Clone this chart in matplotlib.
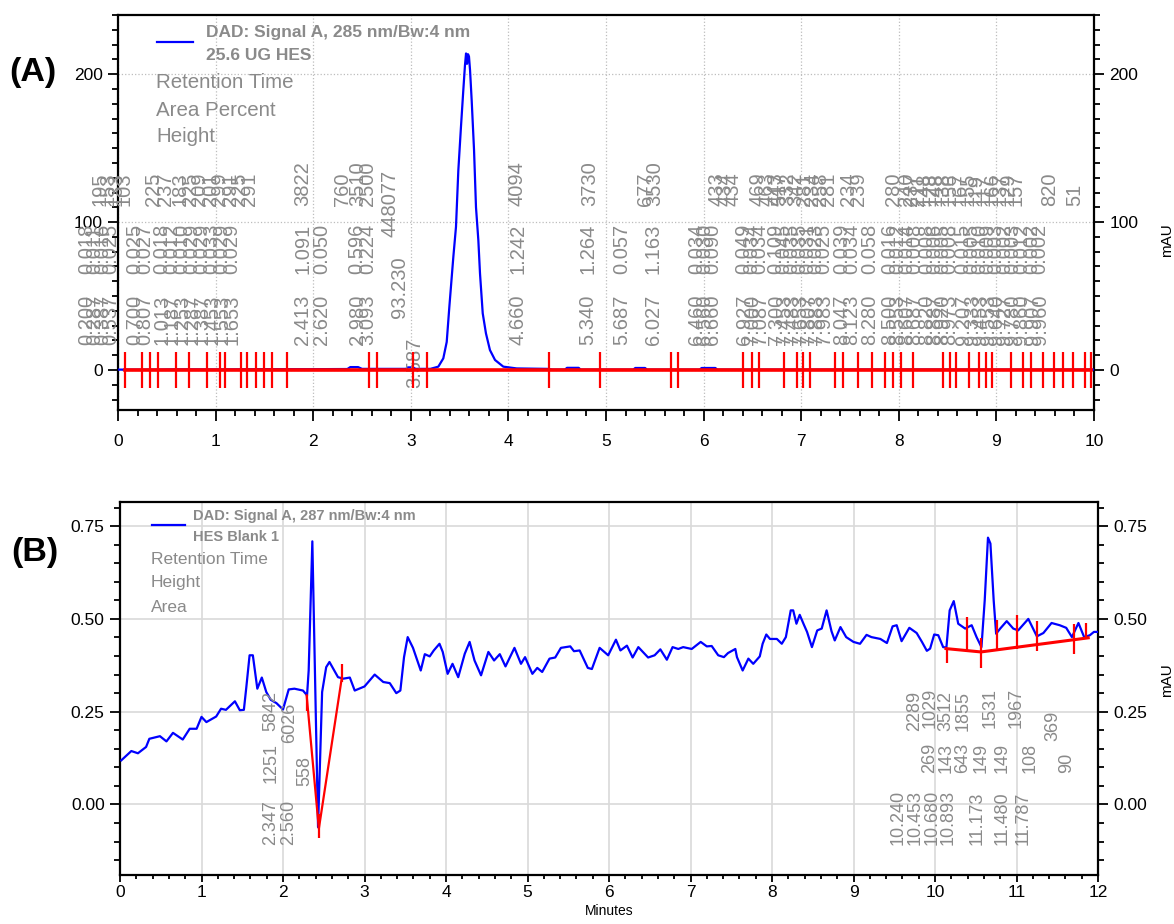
import matplotlib
matplotlib.use("Agg")
import matplotlib.pyplot as plt
from matplotlib.ticker import MultipleLocator, FormatStrFormatter
from matplotlib.lines import Line2D

plt.rcParams['font.family'] = ['Liberation Sans', 'DejaVu Sans']

# ---------------- Panel A: 25.6 UG HES, 285 nm ----------------
a_time = [0.00, 0.40, 0.60, 1.00, 1.50, 2.00, 2.35, 2.38, 2.46, 2.50, 2.95, 2.97, 3.02, 3.05,
          3.20, 3.282, 3.333, 3.368, 3.395, 3.436, 3.463, 3.487, 3.514, 3.538, 3.555, 3.566,
          3.576, 3.586, 3.596, 3.607, 3.624, 3.648, 3.668, 3.692, 3.709, 3.737, 3.770, 3.811,
          3.863, 3.948, 4.085, 4.40, 4.45, 4.58, 4.60, 4.72, 4.74, 5.28, 5.30, 5.40, 5.42,
          5.96, 5.98, 6.12, 6.14, 7.00, 8.00, 9.00, 10.00]
a_mau = [0.3, 0.3, 0.5, 0.4, 0.6, 0.6, 0.7, 2.0, 2.0, 0.8, 0.8, 1.8, 1.8, 0.8,
         0.8, 2.3, 7.9, 19.0, 42.8, 76.6, 96.8, 135.0, 164.4, 189.2, 206.0, 214.0,
         207.0, 213.5, 212.0, 202.7, 182.0, 148.6, 110.0, 87.8, 65.3, 38.3, 24.8, 13.5,
         6.8, 2.3, 1.1, 0.8, 0.3, 0.3, 1.5, 1.5, 0.3, 0.3, 1.4, 1.4, 0.3,
         0.3, 1.4, 1.4, 0.3, 0.3, 0.4, 0.3, 0.3]

# integration events (peak start / end marks), minutes
a_events = [0.072, 0.243, 0.328, 0.413, 0.594, 0.731, 0.909, 1.045, 1.096, 1.257, 1.319,
            1.414, 1.496, 1.575, 1.735, 2.575, 2.651, 3.026, 3.163, 4.419, 4.939, 5.666,
            5.741, 6.407, 6.493, 6.568, 6.824, 6.954, 7.015, 7.090, 7.346, 7.425, 7.585,
            7.722, 7.857, 7.943, 8.020, 8.149, 8.450, 8.525, 8.586, 8.722, 8.819, 8.893,
            8.952, 9.150, 9.270, 9.351, 9.480, 9.590, 9.680, 9.780, 9.911, 9.966]

a_rt = ["0.200", "0.287", "0.387", "0.537", "0.700", "0.807",
        "1.013", "1.187", "1.253", "1.287", "1.387", "1.453", "1.553", "1.653",
        "2.413", "2.620", "2.980", "3.093", "3.587",
        "4.660", "5.340", "5.687", "6.027",
        "6.460", "6.560", "6.660", "6.927", "7.000", "7.087",
        "7.300", "7.453", "7.483", "7.653", "7.807", "7.883", "7.983", "8.047", "8.123",
        "8.280",
        "8.500", "8.553", "8.607", "8.687", "8.820", "8.887", "8.920", "8.973",
        "9.207", "9.333", "9.453", "9.553", "9.640", "9.727", "9.780", "9.860", "9.907", "9.960"]
a_area = ["0.018", "0.011", "0.016", "0.025", "0.025", "0.027",
          "0.018", "0.012", "0.010", "0.029", "0.029", "0.033", "0.029", "0.029",
          "1.091", "0.050", "0.596", "0.224", "93.230",
          "1.242", "1.264", "0.057", "1.163",
          "0.034", "0.030", "0.090", "0.049", "0.034", "0.034",
          "0.109", "0.045", "0.035", "0.035", "0.031", "0.023", "0.025", "0.039", "0.034",
          "0.058",
          "0.016", "0.012", "0.014", "0.008", "0.008", "0.006", "0.005", "0.008",
          "0.015", "0.005", "0.010", "0.009", "0.003", "0.002", "0.003", "0.012", "0.002", "0.002"]
a_height = ["195", "153", "133", "103", "225", "237",
            "183", "225", "209", "201", "299", "291", "225", "291",
            "3822", "760", "3510", "2500", "448077",
            "4094", "3730", "677", "3530",
            "433", "434", "434", "469", "463", "443",
            "517", "332", "342", "281", "234", "258", "281", "234", "239",
            "280",
            "240", "237", "211", "148", "128", "148", "138", "156",
            "167", "155", "119", "117", "166", "137", "129", "157", "820", "51"]

# label layout (minutes along the axis)
a_rt_x = [-0.318, -0.236, -0.154, -0.072, 0.174, 0.277,
          0.451, 0.553, 0.656, 0.758, 0.861, 0.963, 1.066, 1.168,
          1.895, 2.090, 2.449, 2.561, 3.043,
          4.098, 4.816, 5.164, 5.482,
          5.932, 6.014, 6.096, 6.414, 6.496, 6.578,
          6.742, 6.824, 6.906, 6.988, 7.070, 7.152, 7.234, 7.418, 7.520,
          7.705,
          7.910, 7.992, 8.084, 8.166, 8.289, 8.371, 8.453, 8.525,
          8.658, 8.750, 8.832, 8.914, 8.996, 9.088, 9.170, 9.262, 9.365, 9.447]
a_ht_x = [-0.184, -0.102, -0.020, 0.061, 0.359, 0.482,
          0.635, 0.738, 0.840, 0.943, 1.045, 1.148, 1.250, 1.352,
          1.895, 2.305, 2.459, 2.561, 2.787,
          4.088, 4.836, 5.400, 5.502,
          6.137, 6.219, 6.301, 6.557, 6.650, 6.742,
          6.783, 6.865, 6.947, 7.029, 7.111, 7.193, 7.275, 7.480, 7.582,
          7.941,
          8.074, 8.135, 8.197, 8.258, 8.320, 8.381, 8.453, 8.525,
          8.627, 8.709, 8.791, 8.873, 8.955, 9.037, 9.119, 9.201, 9.549, 9.805]
a_main = a_rt.index("3.587")

# ---------------- Panel B: HES Blank 1, 287 nm ----------------
b_time = [0.016, 0.139, 0.22, 0.32, 0.36, 0.49, 0.57, 0.65, 0.77, 0.855, 0.94, 1.00, 1.06,
          1.18, 1.24, 1.30, 1.41, 1.47, 1.52, 1.55, 1.59, 1.63, 1.685, 1.74, 1.795, 1.85,
          1.92, 2.00, 2.07, 2.14, 2.245, 2.295, 2.315, 2.36, 2.43, 2.48, 2.53, 2.57, 2.675,
          2.74, 2.82, 2.88, 3.00, 3.125, 3.23, 3.31, 3.39, 3.44, 3.485, 3.53, 3.595, 3.69,
          3.74, 3.80, 3.85, 3.92, 3.96, 4.02, 4.08, 4.15, 4.23, 4.29, 4.35, 4.43, 4.52,
          4.59, 4.66, 4.73, 4.84, 4.92, 4.97, 5.06, 5.12, 5.18, 5.27, 5.34, 5.41, 5.525,
          5.57, 5.64, 5.74, 5.79, 5.885, 5.99, 6.085, 6.14, 6.22, 6.29, 6.36, 6.48, 6.56,
          6.63, 6.71, 6.78, 6.85, 6.91, 7.015, 7.125, 7.20, 7.26, 7.34, 7.41, 7.46, 7.55,
          7.57, 7.64, 7.71, 7.77, 7.85, 7.885, 7.93, 7.975, 8.06, 8.12, 8.17, 8.23, 8.26,
          8.30, 8.34, 8.39, 8.43, 8.49, 8.555, 8.61, 8.67, 8.73, 8.77, 8.84, 8.91, 9.00,
          9.08, 9.16, 9.22, 9.33, 9.41, 9.48, 9.53, 9.59, 9.685, 9.775, 9.84, 9.90, 9.94,
          9.99, 10.04, 10.10, 10.14, 10.18, 10.23, 10.285, 10.37, 10.45, 10.51, 10.57,
          10.61, 10.65, 10.68, 10.72, 10.75, 10.80, 10.88, 10.96, 11.02, 11.145, 11.25,
          11.33, 11.43, 11.53, 11.61, 11.68, 11.76, 11.83, 11.90, 11.95, 12.00]
b_mau = [0.119, 0.144, 0.138, 0.155, 0.177, 0.184, 0.170, 0.193, 0.175, 0.204, 0.204, 0.236, 0.222,
         0.237, 0.258, 0.255, 0.278, 0.254, 0.255, 0.316, 0.402, 0.402, 0.312, 0.342, 0.303, 0.282,
         0.273, 0.256, 0.310, 0.312, 0.307, 0.294, 0.361, 0.709, -0.061, 0.303, 0.370, 0.384, 0.343,
         0.339, 0.342, 0.307, 0.318, 0.350, 0.330, 0.327, 0.300, 0.307, 0.397, 0.451, 0.422, 0.361,
         0.405, 0.399, 0.415, 0.433, 0.411, 0.352, 0.379, 0.343, 0.406, 0.438, 0.388, 0.348, 0.411,
         0.388, 0.405, 0.372, 0.422, 0.379, 0.397, 0.352, 0.368, 0.357, 0.393, 0.396, 0.422, 0.426,
         0.413, 0.415, 0.368, 0.365, 0.422, 0.402, 0.444, 0.415, 0.428, 0.396, 0.424, 0.396, 0.402,
         0.418, 0.390, 0.424, 0.419, 0.424, 0.419, 0.438, 0.426, 0.427, 0.402, 0.397, 0.408, 0.419,
         0.397, 0.361, 0.393, 0.379, 0.399, 0.433, 0.458, 0.446, 0.446, 0.433, 0.451, 0.523, 0.523,
         0.487, 0.511, 0.485, 0.465, 0.424, 0.469, 0.474, 0.523, 0.467, 0.442, 0.478, 0.451, 0.438,
         0.433, 0.457, 0.451, 0.446, 0.435, 0.480, 0.483, 0.440, 0.476, 0.462, 0.438, 0.414, 0.420,
         0.458, 0.456, 0.424, 0.423, 0.523, 0.548, 0.487, 0.474, 0.483, 0.451, 0.424,
         0.550, 0.719, 0.703, 0.550, 0.460, 0.474, 0.494, 0.474, 0.469, 0.500, 0.453,
         0.462, 0.489, 0.483, 0.476, 0.451, 0.489, 0.451, 0.456, 0.465, 0.465]

# drawn baselines (minutes, mAU)
b_base1_t = [2.29, 2.44, 2.72]
b_base1_y = [0.294, -0.065, 0.339]
b_base2_t = [10.135, 10.564, 11.88]
b_base2_y = [0.420, 0.411, 0.449]
# integration event marks: time, low, high
b_event_t = [2.29, 2.44, 2.72, 10.143, 10.389, 10.564, 10.757, 11.002, 11.255, 11.706, 11.853]
b_event_lo = [0.252, -0.089, 0.330, 0.380, 0.411, 0.368, 0.420, 0.420, 0.413, 0.405, 0.449]
b_event_hi = [0.294, -0.025, 0.378, 0.421, 0.505, 0.449, 0.498, 0.510, 0.494, 0.485, 0.489]

b_rt = ["2.347", "2.560", "10.240", "10.453", "10.680", "10.893", "11.173", "11.480", "11.787"]
b_height = ["1251", "558", "269", "143", "643", "149", "149", "108", "90"]
b_area = ["5842", "6026", "2289", "1029", "3512", "1855", "1531", "1967", "369"]
# label layout
b_rt_x = [1.853, 2.074, 9.546, 9.755, 9.963, 10.16, 10.515, 10.822, 11.08]
b_ht_x = [1.853, 2.27, 9.939, 10.135, 10.344, 10.564, 10.822, 11.166, 11.62]
b_ht_y = [0.057, 0.051, 0.084, 0.084, 0.084, 0.084, 0.084, 0.084, 0.084]
b_ar_x = [1.853, 2.086, 9.755, 9.939, 10.135, 10.344, 10.675, 10.994, 11.448]
b_ar_y = [0.199, 0.167, 0.199, 0.205, 0.199, 0.199, 0.205, 0.205, 0.172]

# ---------------- figure ----------------
W, H = 1174, 924
fig = plt.figure(figsize=(W / 100, H / 100), dpi=100)


def fx(px):
    return px / W


def fy(py):
    return 1 - py / H


axA = fig.add_axes([fx(118), fy(410), fx(1094) - fx(118), fy(15) - fy(410)])
axB = fig.add_axes([fx(120), fy(875), fx(1098) - fx(120), fy(502) - fy(875)])

GREY = '#8a8a8a'
LBL = dict(rotation=90, ha='center', va='bottom', color=GREY, clip_on=False)


def style_axes(ax, ymajor, yminor):
    ax.xaxis.set_major_locator(MultipleLocator(1))
    ax.xaxis.set_minor_locator(MultipleLocator(0.2))
    ax.yaxis.set_major_locator(MultipleLocator(ymajor))
    ax.yaxis.set_minor_locator(MultipleLocator(yminor))
    ax.tick_params(which='both', direction='out', left=True, right=True, top=False,
                   bottom=True, labelleft=True, labelright=True, width=1.3,
                   labelsize=12.5, colors='black')
    ax.tick_params(which='major', length=7, pad=4)
    ax.tick_params(which='minor', length=4)
    for s in ax.spines.values():
        s.set_linewidth(1.6)
    ax.set_axisbelow(True)


# Panel A
style_axes(axA, 100, 10)
axA.tick_params(axis='x', which='major', length=8, pad=9)
axA.set_xlim(0, 10)
axA.set_ylim(-27, 240)
axA.grid(True, which='major', color='#bdbdbd', linestyle=':', linewidth=0.9)
axA.plot(a_time, a_mau, color='#0000ff', lw=1.6, zorder=3)
axA.plot([a_events[0], a_events[-1]], [0, 0], color='#ff0000', lw=2.6, zorder=4)
axA.vlines(a_events, -12, 12, color='#ff0000', lw=1.6, zorder=4)

for i in range(len(a_rt)):
    if i == a_main:
        y_rt, y_ar, y_ht, x_ar = -12, 35, 90, 2.889
    else:
        y_rt, y_ar, y_ht, x_ar = 17, 65, 111, a_rt_x[i]
    axA.text(a_rt_x[i], y_rt, a_rt[i], fontsize=14.5, **LBL)
    axA.text(x_ar, y_ar, a_area[i], fontsize=14.5, **LBL)
    axA.text(a_ht_x[i], y_ht, a_height[i], fontsize=14.5, **LBL)

axA.set_ylabel('mAU', fontsize=11)
axA.yaxis.set_label_position('right')
axA.yaxis.set_label_coords(1.0676, 0.43)

# Panel B
style_axes(axB, 0.25, 0.05)
axB.tick_params(axis='x', which='major', length=5, pad=2)
axB.tick_params(axis='x', which='minor', length=3)
axB.set_xlim(0, 12)
axB.set_ylim(-0.19, 0.815)
axB.yaxis.set_major_formatter(FormatStrFormatter('%.2f'))
axB.grid(True, which='major', color='#d9d9d9', linestyle='-', linewidth=1.2)
axB.plot(b_time, b_mau, color='#0000ff', lw=1.6, zorder=3)
axB.plot(b_base1_t, b_base1_y, color='#ff0000', lw=1.6, zorder=4)
axB.plot(b_base2_t, b_base2_y, color='#ff0000', lw=2.2, zorder=4)
axB.vlines(b_event_t, b_event_lo, b_event_hi, color='#ff0000', lw=1.6, zorder=4)

for i in range(len(b_rt)):
    axB.text(b_rt_x[i], -0.11, b_rt[i], fontsize=13, **LBL)
    axB.text(b_ht_x[i], b_ht_y[i], b_height[i], fontsize=13, **LBL)
    axB.text(b_ar_x[i], b_ar_y[i], b_area[i], fontsize=13, **LBL)

axB.set_ylabel('mAU', fontsize=11)
axB.yaxis.set_label_position('right')
axB.yaxis.set_label_coords(1.0634, 0.523)
axB.set_xlabel('Minutes', fontsize=10, labelpad=3)

# legends / annotation headers
fig.add_artist(Line2D([fx(157), fx(193)], [fy(42), fy(42)], color='#0000ff', lw=1.6))
fig.text(fx(206), fy(33), 'DAD: Signal A, 285 nm/Bw:4 nm', fontsize=12.5,
         fontweight='bold', color=GREY, va='center')
fig.text(fx(206), fy(55), '25.6 UG HES', fontsize=12.5, fontweight='bold',
         color=GREY, va='center')
for txt, py in [('Retention Time', 82), ('Area Percent', 110), ('Height', 137)]:
    fig.text(fx(156), fy(py), txt, fontsize=14.8, color=GREY, va='center')

fig.add_artist(Line2D([fx(152), fx(185)], [fy(525), fy(525)], color='#0000ff', lw=1.6))
fig.text(fx(193), fy(516), 'DAD: Signal A, 287 nm/Bw:4 nm', fontsize=10.5,
         fontweight='bold', color=GREY, va='center')
fig.text(fx(193), fy(537), 'HES Blank 1', fontsize=10.5, fontweight='bold',
         color=GREY, va='center')
for txt, py in [('Retention Time', 560), ('Height', 583), ('Area', 607)]:
    fig.text(fx(151), fy(py), txt, fontsize=12.5, color=GREY, va='center')

fig.text(fx(9), fy(72), '(A)', fontsize=24.5, fontweight='bold', va='center')
fig.text(fx(11), fy(552), '(B)', fontsize=24.5, fontweight='bold', va='center')

fig.savefig('out.png', dpi=100)
